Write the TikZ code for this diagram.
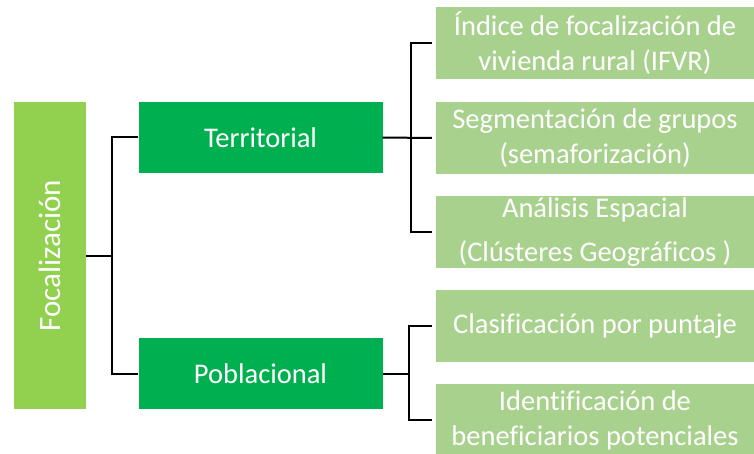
\documentclass[tikz,border=0pt]{standalone}
\usepackage{fontspec}
\setmainfont[Ligatures=NoCommon]{Carlito}
\definecolor{lime}{HTML}{92D050}
\definecolor{midgreen}{HTML}{00B050}
\definecolor{lightgreen}{HTML}{A9D18E}
\begin{document}
\begin{tikzpicture}[x=1pt,y=-1pt,
  base/.style={inner sep=0pt, text=white, font=\fontsize{28.5}{35}\selectfont, align=center},
  leftbox/.style={base, fill=lime, minimum width=72pt, minimum height=307pt},
  midbox/.style={base, fill=midgreen, minimum width=244pt, minimum height=71pt},
  rightbox/.style={base, fill=lightgreen, minimum width=318pt, minimum height=72pt},
  conn/.style={draw=black, line width=2pt}]
\useasboundingbox (0,0) rectangle (754,454);
\node[leftbox, font=\fontsize{31}{35}\selectfont] (foc) at (50,255.5) {\rotatebox{90}{Focalización}};
\node[midbox] (terr) at (260.5,137.5) {Territorial};
\node[midbox] (pobl) at (260.5,373.5) {Poblacional};
\node[rightbox] (r1) at (595,43) {Índice de focalización de\\vivienda rural (IFVR)};
\node[rightbox] (r2) at (595,138) {Segmentación de grupos\\(semaforización)};
\node[rightbox, font=\fontsize{28.5}{44}\selectfont] (r3) at (595,232) {Análisis Espacial\\(Clústeres Geográficos )};
\node[rightbox] (r4) at (595,326) {Clasificación por puntaje};
\node[rightbox] (r5) at (595,420) {Identificación de\\beneficiarios potenciales};
\coordinate (fj) at (112,255.5);
\coordinate (tj) at (411,137.5);
\coordinate (pj) at (409,373.5);
\draw[conn] (foc.east) -- (fj);
\draw[conn] (terr.west) -| (fj) |- (pobl.west);
\draw[conn] (terr.east) -- ([xshift=-4pt]r2.west);
\draw[conn] ([xshift=-4pt]r1.west) -| (tj) |- ([xshift=-4pt]r3.west);
\draw[conn] (pobl.east) -- (pj);
\draw[conn] ([xshift=-4pt]r4.west) -| (pj) |- ([xshift=-4pt]r5.west);
\end{tikzpicture}
\end{document}
